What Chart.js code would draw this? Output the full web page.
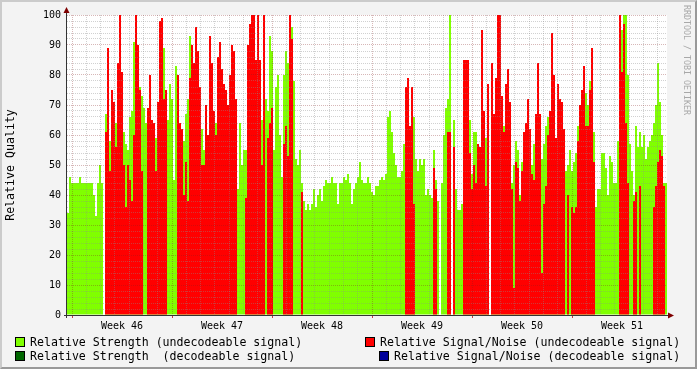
<!DOCTYPE html>
<html>
<head>
<meta charset="utf-8">
<title>Relative Quality</title>
<script src="https://cdn.jsdelivr.net/npm/chart.js@4.4.0/dist/chart.umd.min.js"></script>
<style>
  html, body { margin: 0; padding: 0; background: #f3f3f3; }
  #wrap { position: relative; width: 697px; height: 369px; overflow: hidden; background: #f3f3f3; font-family: 'DejaVu Sans Mono', monospace; }
  #chart { position: absolute; left: 0; top: 0; }
  #frame { position: absolute; left: 0; top: 0; right: 0; bottom: 0; border-style: solid; border-width: 2px; border-color: #cbcbcb #999 #999 #cbcbcb; pointer-events: none; }
  .key { position: absolute; font-size: 11.6px; line-height: 12px; white-space: pre; color: #000; }
  .box { position: absolute; width: 8px; height: 8px; border: 1px solid #000; }
  #mark { position: absolute; left: 682px; top: 5px; writing-mode: vertical-rl; font-size: 8.3px; line-height: 10px; color: #a8a8a8; white-space: pre; }
</style>
</head>
<body>
<div id="wrap">
  <canvas id="chart" width="697" height="369"></canvas>
  <div id="mark">RRDTOOL / TOBI OETIKER</div>
  <div class="box" style="left:15px;top:337px;background:#80ff00"></div>
  <div class="key" style="left:30px;top:336px">Relative Strength (undecodeable signal)</div>
  <div class="box" style="left:365px;top:337px;background:#ff0000"></div>
  <div class="key" style="left:380px;top:336px">Relative Signal/Noise (undecodeable signal)</div>
  <div class="box" style="left:15px;top:351px;background:#006600"></div>
  <div class="key" style="left:30px;top:350px">Relative Strength  (decodeable signal)</div>
  <div class="box" style="left:379px;top:351px;background:#000099"></div>
  <div class="key" style="left:394px;top:350px">Relative Signal/Noise (decodeable signal)</div>
  <div id="frame"></div>
</div>
<script>
// one value per time slot (about 1.7 hours each), 50 slots per week
const strengthUndecodeable = [
  34, 46, 44, 44, 44, 44, 46, 44, 44, 44,
  44, 44, 44, 40, 33, 44, 50, 44, null, 67,
  62, 58, 64, 64, 64, 60, 60, 60, 61, 57,
  55, 66, 68, 91, 75, 73, 76, 73, 69, 64,
  60, 55, 60, 60, 59, 50, 60, 55, 89, 72,
  65, 77, 72, 45, 83, 60, 60, 58, 58, 67,
  72, 93, 62, 60, 60, 75, 69, 62, 55, 60,
  60, 60, 60, 53, 64, 60, 60, 60, 60, 61,
  61, 60, 60, 60, 60, 42, 64, 50, 55, 55,
  60, 77, 60, 60, 60, 60, 60, 65, 83, 72,
  68, 93, 88, 55, 76, 80, 60, 46, 80, 88,
  84, 78, 96, 78, 52, 50, 55, 44, 38, 35,
  37, 35, 37, 42, 36, 40, 42, 38, 43, 45,
  44, 44, 46, 44, 44, 37, 44, 44, 46, 45,
  47, 44, 37, 42, 44, 46, 51, 45, 44, 44,
  46, 44, 41, 40, 43, 43, 45, 46, 45, 47,
  66, 68, 61, 54, 50, 46, 46, 48, 57, 64,
  63, 50, 56, 66, 52, 48, 52, 50, 52, 40,
  42, 40, 39, 55, 45, 38, null, 44, 60, 69,
  72, 100, null, 65, 42, 35, 35, 37, 62, 60,
  60, 65, 47, 61, 61, 57, 50, 55, 58, 59,
  61, null, 60, 60, 60, 60, 60, 69, 63, 60,
  60, 57, 44, 50, 58, 55, 40, 51, 58, 60,
  60, 49, 50, 57, 60, 60, 60, 52, 57, 63,
  66, 60, 60, 60, 51, 60, 60, 60, 46, 48,
  50, 55, 48, 51, 54, 63, 58, 60, 70, 74,
  70, 78, 61, 61, 36, 42, 42, 54, 54, 49,
  40, 53, 51, 44, 44, 58, 97, 95, 100, 100,
  80, 57, 48, 40, 63, 56, 61, 56, 60, 52,
  56, 58, 60, 64, 70, 84, 71, 60, 44, 44
];

const snrUndecodeable = [
  null, null, null, null, null, null, null, null, null, null,
  null, null, null, null, null, null, null, null, null, 61,
  89, 48, 75, 71, 56, 84, 100, 81, 50, 36,
  50, 45, 38, 60, 100, 90, 75, 48, null, null,
  69, 80, 65, 64, 48, 71, 98, 99, 72, 75,
  null, null, null, null, null, 80, 64, 62, 40, 51,
  38, 79, 90, 84, 96, 88, 76, 50, 50, 70,
  60, 93, 84, 68, 60, 86, 91, 82, 77, 75,
  70, 80, 90, 88, 72, null, null, null, null, 39,
  90, 97, 100, 100, 85, 100, 85, 50, 100, null,
  59, 64, 69, null, null, null, null, null, 57, 63,
  53, 100, 92, null, null, null, null, 41, null, null,
  null, null, null, null, null, null, null, null, null, null,
  null, null, null, null, null, null, null, null, null, null,
  null, null, null, null, null, null, null, null, null, null,
  null, null, null, null, null, null, null, null, null, null,
  null, null, null, null, null, null, null, null, null, 76,
  79, 63, 76, 37, null, null, null, null, null, null,
  null, null, null, 49, 42, null, null, null, null, null,
  61, 61, null, 56, null, null, null, null, 85, 85,
  85, 54, 42, 50, 44, 57, 56, 95, 68, 43,
  77, null, 84, 67, 79, 100, 100, 73, 61, 77,
  82, 71, 42, 9, 51, 49, 38, 48, 61, 64,
  72, 62, 47, 45, 67, 84, 67, 14, 37, 43,
  60, 68, 94, 80, 59, 77, 72, 71, 62, null,
  40, null, 36, 34, 36, 58, 70, 75, 83, 63,
  63, 75, 89, 51, null, null, null, null, null, null,
  null, null, null, null, null, null, 100, 81, 97, 64,
  44, null, null, 38, 41, null, 43, null, null, null,
  null, null, null, 36, 43, 51, 55, 53, 43, null
];

const weekLabels = ['Week 46', 'Week 47', 'Week 48', 'Week 49', 'Week 50', 'Week 51'];
const yTickStep = 2;
const yLabelStep = 10;

const slotCount = strengthUndecodeable.length;
const slotsPerWeek = 50;
const slotsPerDay = slotsPerWeek / 7;
const firstWeekStart = 2.5; // slot where week 46 begins

const GRID = 'rgba(140, 140, 140, 0.4)';
const MGRID = 'rgba(130, 30, 30, 0.32)';
const FONT = "'DejaVu Sans Mono', monospace";

function toPoints(values) {
  return values.map((v, i) => ({ x: i + 0.5, y: v }));
}

// white plot area, axis lines and the little arrows
const plotFrame = {
  id: 'plotFrame',
  beforeDraw(chart) {
    const { ctx, chartArea: a } = chart;
    ctx.save();
    ctx.fillStyle = '#ffffff';
    ctx.fillRect(a.left, a.top, a.right - a.left, a.bottom - a.top);
    ctx.restore();
  },
  afterDraw(chart) {
    const { ctx, chartArea: a } = chart;
    ctx.save();
    ctx.strokeStyle = '#333333';
    ctx.lineWidth = 1;
    ctx.beginPath();
    ctx.moveTo(a.left - 0.5, a.bottom + 3);
    ctx.lineTo(a.left - 0.5, a.top - 2);
    ctx.moveTo(a.left - 3, a.bottom + 0.5);
    ctx.lineTo(a.right + 1, a.bottom + 0.5);
    ctx.stroke();
    ctx.fillStyle = '#7f0000';
    ctx.beginPath();
    ctx.moveTo(a.left - 3.5, a.top - 2);
    ctx.lineTo(a.left + 2.5, a.top - 2);
    ctx.lineTo(a.left - 0.5, a.top - 8);
    ctx.closePath();
    ctx.fill();
    ctx.beginPath();
    ctx.moveTo(a.right + 1, a.bottom - 2.5);
    ctx.lineTo(a.right + 1, a.bottom + 3.5);
    ctx.lineTo(a.right + 7, a.bottom + 0.5);
    ctx.closePath();
    ctx.fill();
    ctx.restore();
  }
};

new Chart(document.getElementById('chart'), {
  type: 'bar',
  data: {
    datasets: [
      {
        label: 'Relative Signal/Noise (undecodeable signal)',
        data: toPoints(snrUndecodeable),
        backgroundColor: '#ff0000',
        order: 0,
        grouped: false
      },
      {
        label: 'Relative Strength (undecodeable signal)',
        data: toPoints(strengthUndecodeable),
        backgroundColor: '#80ff00',
        order: 1,
        grouped: false
      }
    ]
  },
  options: {
    responsive: false,
    animation: false,
    layout: { padding: { left: 0, right: 30, top: 15, bottom: 0 } },
    datasets: {
      bar: { categoryPercentage: 1, barPercentage: 1, borderWidth: 0, inflateAmount: 0 }
    },
    plugins: {
      legend: { display: false },
      tooltip: { enabled: false }
    },
    scales: {
      x: {
        type: 'linear',
        min: 0,
        max: slotCount,
        offset: false,
        afterBuildTicks: (scale) => {
          const ticks = [];
          for (let d = 0; firstWeekStart + d * slotsPerDay <= slotCount; d++) {
            ticks.push({ value: firstWeekStart + d * slotsPerDay, kind: d % 7 === 0 ? 'major' : 'minor' });
          }
          weekLabels.forEach((w, i) => {
            ticks.push({ value: firstWeekStart + i * slotsPerWeek + slotsPerWeek / 2, kind: 'label', text: w });
          });
          ticks.sort((a, b) => a.value - b.value);
          scale.ticks = ticks;
        },
        afterFit: (scale) => { scale.height = 54; },
        grid: {
          z: 1,
          offset: false,
          drawTicks: true,
          tickLength: 3,
          color: (c) => {
            const k = c.tick && c.tick.kind;
            return k === 'major' ? MGRID : k === 'minor' ? GRID : 'rgba(0,0,0,0)';
          },
          tickColor: (c) => (c.tick && c.tick.kind === 'major' ? '#c04040' : 'rgba(0,0,0,0)')
        },
        border: { display: false, dash: [1, 1] },
        ticks: {
          autoSkip: false,
          maxRotation: 0,
          minRotation: 0,
          padding: 2,
          color: '#000',
          font: { family: FONT, size: 10 },
          callback: (value, index, ticks) => (ticks[index].kind === 'label' ? ticks[index].text : '')
        }
      },
      y: {
        min: 0,
        max: 100,
        afterBuildTicks: (scale) => {
          const ticks = [];
          for (let v = scale.min; v <= scale.max; v += yTickStep) ticks.push({ value: v });
          scale.ticks = ticks;
        },
        afterFit: (scale) => { scale.width = 67; },
        grid: {
          z: 1,
          drawTicks: false,
          color: (c) => (c.tick && c.tick.value % yLabelStep === 0 ? MGRID : GRID)
        },
        border: { display: false, dash: [1, 1] },
        ticks: {
          autoSkip: false,
          padding: 6,
          color: '#000',
          font: { family: FONT, size: 10 },
          callback: (value) => (value % yLabelStep === 0 ? String(value) : '')
        },
        title: {
          display: true,
          text: 'Relative Quality',
          color: '#000',
          font: { family: FONT, size: 11.6 },
          padding: { top: 4, bottom: 0 }
        }
      }
    }
  },
  plugins: [plotFrame]
});
</script>
</body>
</html>
